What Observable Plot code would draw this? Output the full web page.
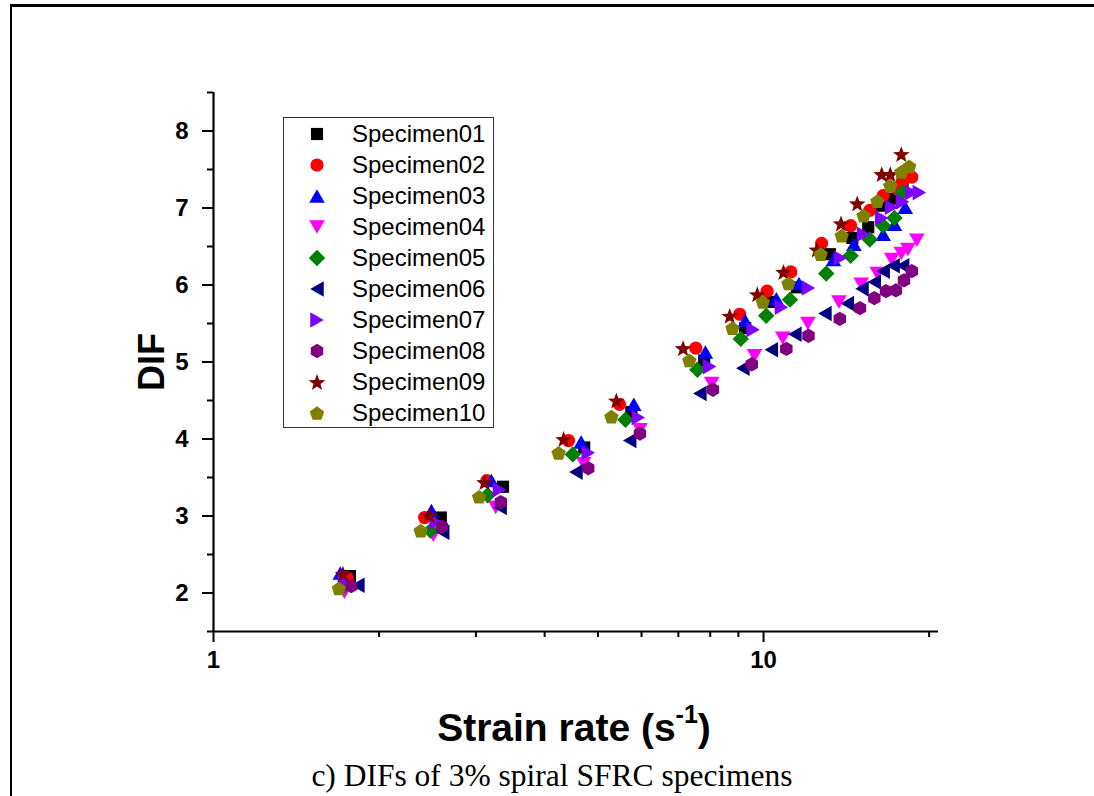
<!DOCTYPE html>
<html>
<head>
<meta charset="utf-8">
<script src="https://cdn.jsdelivr.net/npm/d3@7"></script>
<script src="https://cdn.jsdelivr.net/npm/@observablehq/plot@0.6"></script>
<style>
  html, body { margin: 0; padding: 0; background: #fff; }
  #wrap { position: relative; width: 1094px; height: 796px; overflow: hidden; font-family: "Liberation Sans", Arial, sans-serif; }
  #frameTop { position: absolute; left: 10px; top: 4px; width: 1084px; height: 0; border-top: 3px solid #000; }
  #frameLeft { position: absolute; left: 10px; top: 4px; width: 0; height: 792px; border-left: 2px solid #000; }
  #chart { position: absolute; left: 0; top: 0; }
  #legend { position: absolute; left: 283px; top: 117px; width: 209px; height: 309px; border: 1px solid #333; background: #fff; }
  .lg-sym { position: absolute; left: 21px; width: 24px; height: 24px; }
  .lg-txt { position: absolute; left: 68px; font-size: 24px; line-height: 24px; color: #000; white-space: nowrap; }
  #ytitle { position: absolute; left: 152px; top: 362px; transform: translate(-50%, -50%) rotate(-90deg); font-size: 36px; font-weight: bold; white-space: nowrap; }
  #xtitle { position: absolute; left: 574px; top: 727px; transform: translate(-50%, -50%); font-size: 39px; font-weight: bold; white-space: nowrap; }
  #xtitle sup { font-size: 25px; position: relative; top: -4px; }
  #caption { position: absolute; left: 552px; top: 776px; transform: translate(-50%, -50%); font-family: "Liberation Serif", "Times New Roman", serif; font-size: 31.5px; white-space: nowrap; }
</style>
</head>
<body>
<div id="wrap">
  <div id="frameTop"></div>
  <div id="frameLeft"></div>
  <div id="chart"></div>
  <div id="legend"></div>
  <div id="ytitle">DIF</div>
  <div id="xtitle">Strain rate (s<sup>-1</sup>)</div>
  <div id="caption">c) DIFs of 3% spiral SFRC specimens</div>
</div>
<script>
// ---------- data ----------
const specimenNames = ["Specimen01","Specimen02","Specimen03","Specimen04","Specimen05","Specimen06","Specimen07","Specimen08","Specimen09","Specimen10"];
const specimenColors = ["#000000","#ff0000","#0000ff","#ff00ff","#008000","#000080","#8000ff","#800080","#800000","#808000"];

const rate01 = [1.77, 2.59, 3.36, 4.72, 5.75, 7.80, 9.26, 10.33, 11.5, 13.2, 14.5, 15.5, 16.4, 17.2, 17.9];
const dif01  = [2.22, 2.98, 3.38, 3.89, 4.35, 5.02, 5.44, 5.78, 5.97, 6.40, 6.61, 6.75, 7.03, 7.12, 7.34];

const rate02 = [1.75, 2.42, 3.14, 4.42, 5.47, 7.53, 9.05, 10.15, 11.21, 12.75, 14.4, 15.6, 16.5, 17.5, 17.8, 18.6];
const dif02  = [2.20, 2.98, 3.46, 3.98, 4.45, 5.18, 5.62, 5.92, 6.17, 6.54, 6.77, 6.97, 7.16, 7.25, 7.31, 7.40];

const rate03 = [1.70, 2.49, 3.20, 4.66, 5.81, 7.84, 9.26, 10.55, 11.6, 13.4, 14.6, 16.5, 17.3, 18.1];
const dif03  = [2.26, 3.07, 3.46, 3.96, 4.45, 5.13, 5.54, 5.82, 6.02, 6.33, 6.53, 6.66, 6.79, 7.01];

const rate04 = [1.73, 2.51, 3.26, 4.71, 5.96, 8.05, 9.63, 10.84, 12.04, 13.71, 15.05, 16.1, 17.1, 17.8, 18.3, 19.0];
const dif04  = [2.01, 2.75, 3.11, 3.68, 4.12, 4.72, 5.08, 5.31, 5.50, 5.78, 6.01, 6.15, 6.33, 6.41, 6.46, 6.58];

const rate05 = [1.72, 2.48, 3.15, 4.50, 5.61, 7.58, 9.09, 10.11, 11.17, 13.0, 14.4, 15.6, 16.5, 17.3, 17.9];
const dif05  = [2.08, 2.81, 3.27, 3.80, 4.25, 4.90, 5.30, 5.60, 5.81, 6.15, 6.38, 6.59, 6.77, 6.87, 7.20];

const rate06 = [1.83, 2.61, 3.32, 4.56, 5.71, 7.66, 9.17, 10.33, 11.4, 12.93, 14.2, 15.1, 15.9, 16.5, 17.2, 17.9];
const dif06  = [2.10, 2.79, 3.11, 3.57, 3.98, 4.59, 4.92, 5.16, 5.36, 5.63, 5.76, 5.95, 6.04, 6.18, 6.25, 6.25];

const rate07 = [1.73, 2.54, 3.31, 4.80, 5.92, 7.98, 9.57, 10.78, 12.07, 13.8, 15.2, 16.4, 17.1, 17.9, 18.6, 19.2];
const dif07  = [2.14, 2.92, 3.34, 3.82, 4.28, 4.94, 5.42, 5.71, 5.96, 6.35, 6.66, 6.87, 7.01, 7.08, 7.20, 7.20];

const rate08 = [1.78, 2.60, 3.33, 4.80, 5.96, 8.09, 9.52, 11.0, 12.07, 13.76, 14.97, 15.9, 16.7, 17.4, 18.0, 18.6];
const dif08  = [2.09, 2.86, 3.18, 3.62, 4.07, 4.64, 4.97, 5.17, 5.34, 5.56, 5.70, 5.83, 5.92, 5.93, 6.06, 6.18];

const rate09 = [1.72, 2.47, 3.11, 4.33, 5.40, 7.14, 8.68, 9.74, 10.87, 12.5, 13.83, 14.8, 16.4, 17.0, 17.8];
const dif09  = [2.25, 3.01, 3.44, 4.00, 4.50, 5.18, 5.60, 5.88, 6.17, 6.46, 6.80, 7.06, 7.44, 7.44, 7.70];

const rate10 = [1.69, 2.38, 3.04, 4.24, 5.29, 7.33, 8.78, 9.97, 11.1, 12.7, 13.87, 15.2, 16.1, 17.0, 17.8, 18.4];
const dif10  = [2.06, 2.81, 3.25, 3.82, 4.29, 5.02, 5.44, 5.78, 6.02, 6.40, 6.64, 6.90, 7.09, 7.29, 7.47, 7.54];

const xMajorTicks = [1, 10];
const xMinorTicks = [2, 3, 4, 5, 6, 7, 8, 9, 20];
const yMajorTicks = [2, 3, 4, 5, 6, 7, 8];
const yMinorTicks = [1.5, 2.5, 3.5, 4.5, 5.5, 6.5, 7.5, 8.5];

// ---------- symbols ----------
function polySymbol(n, rot) {
  return {
    draw(ctx, size) {
      const r = Math.sqrt(size / Math.PI);
      const pts = [];
      for (let i = 0; i < n; i++) {
        const a = rot + 2 * Math.PI * i / n;
        pts.push([r * Math.sin(a), -r * Math.cos(a)]);
      }
      const xs = pts.map(p => p[0]), ys = pts.map(p => p[1]);
      const cx = (Math.min(...xs) + Math.max(...xs)) / 2, cy = (Math.min(...ys) + Math.max(...ys)) / 2;
      pts.forEach((p, i) => i ? ctx.lineTo(p[0] - cx, p[1] - cy) : ctx.moveTo(p[0] - cx, p[1] - cy));
      ctx.closePath();
    }
  };
}
const starSymbol = {
  draw(ctx, size) {
    const r = Math.sqrt(size / Math.PI), ri = r * 0.42;
    for (let i = 0; i < 10; i++) {
      const a = Math.PI * i / 5;
      const rr = i % 2 ? ri : r;
      const px = rr * Math.sin(a), py = -rr * Math.cos(a) + r * 0.1;
      i ? ctx.lineTo(px, py) : ctx.moveTo(px, py);
    }
    ctx.closePath();
  }
};
const circleSymbol = {
  draw(ctx, size) { const r = Math.sqrt(size / Math.PI); ctx.moveTo(r, 0); ctx.arc(0, 0, r, 0, 2 * Math.PI); }
};

const symbolsBySeries = [
  polySymbol(4, Math.PI / 4),   // square
  circleSymbol,                 // circle
  polySymbol(3, 0),             // triangle up
  polySymbol(3, Math.PI),       // triangle down
  polySymbol(4, 0),             // diamond
  polySymbol(3, -Math.PI / 2),  // triangle left
  polySymbol(3, Math.PI / 2),   // triangle right
  polySymbol(6, 0),             // hexagon
  starSymbol,                   // star
  polySymbol(5, 0)              // pentagon
];
const symbolR = [8.6, 6.6, 9, 9, 8.2, 9, 9, 7.2, 8.8, 7.6];

const rates = [rate01, rate02, rate03, rate04, rate05, rate06, rate07, rate08, rate09, rate10];
const difs  = [dif01, dif02, dif03, dif04, dif05, dif06, dif07, dif08, dif09, dif10];

const seriesMarks = specimenNames.map((name, k) => {
  const rows = rates[k].map((x, i) => ({rate: x, dif: difs[k][i]}));
  return Plot.dot(rows, {x: "rate", y: "dif", symbol: symbolsBySeries[k], r: symbolR[k], fill: specimenColors[k], stroke: "none"});
});

const chart = Plot.plot({
  width: 1094,
  height: 700,
  marginLeft: 213,
  marginRight: 156,
  marginTop: 92,
  marginBottom: 69,
  x: {type: "log", domain: [1, 20.8]},
  y: {domain: [1.5, 8.5]},
  style: {fontFamily: "'Liberation Sans', Arial, sans-serif", background: "transparent", color: "#000"},
  marks: [
    Plot.axisX(xMajorTicks, {tickSize: 11, tickPadding: 8, fontSize: 24, fontWeight: "bold", strokeWidth: 2, tickFormat: d => String(d), label: null}),
    Plot.axisX(xMinorTicks, {tickSize: 6, strokeWidth: 2, fill: "none"}),
    Plot.axisY(yMajorTicks, {tickSize: 11, tickPadding: 14, fontSize: 24, fontWeight: "bold", strokeWidth: 2, tickFormat: d => String(d), label: null}),
    Plot.axisY(yMinorTicks, {tickSize: 6, strokeWidth: 2, fill: "none"}),
    Plot.ruleY([1.5], {strokeWidth: 2.2}),
    Plot.ruleX([1], {strokeWidth: 2.2}),
    ...seriesMarks
  ]
});
document.getElementById("chart").appendChild(chart);

// ---------- legend ----------
const legend = document.getElementById("legend");
specimenNames.forEach((name, k) => {
  const cy = 16 + 31 * k;
  const svg = d3.create("svg").attr("class", "lg-sym").attr("width", 24).attr("height", 24)
    .style("top", (cy - 12) + "px");
  svg.append("path")
    .attr("transform", "translate(12,12)")
    .attr("d", d3.symbol(symbolsBySeries[k], Math.PI * symbolR[k] * symbolR[k])())
    .attr("fill", specimenColors[k]);
  legend.appendChild(svg.node());
  const t = document.createElement("div");
  t.className = "lg-txt";
  t.style.top = (cy - 12) + "px";
  t.textContent = name;
  legend.appendChild(t);
});
</script>
</body>
</html>
